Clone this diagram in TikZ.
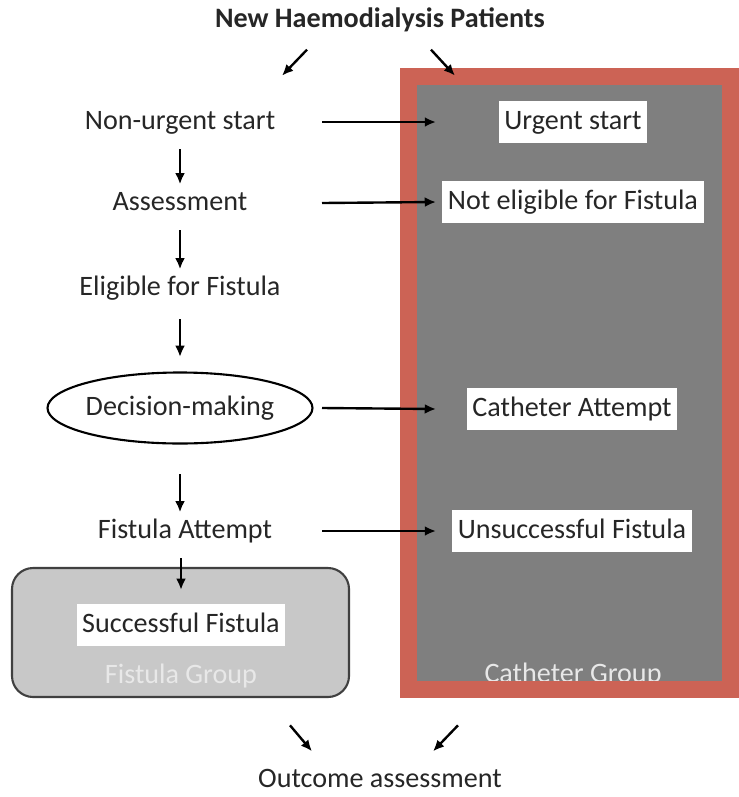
\documentclass[tikz,border=0pt]{standalone}
\usepackage{fontspec}
\setmainfont{Carlito}
\usetikzlibrary{arrows.meta,calc}
\definecolor{catgray}{RGB}{127,127,127}
\definecolor{fisgray}{RGB}{200,200,200}
\definecolor{redframe}{RGB}{204,99,85}
\definecolor{ink}{RGB}{38,38,38}
\definecolor{faint}{RGB}{232,232,232}

\begin{document}
\begin{tikzpicture}[x=0.025cm,y=-0.025cm,>={Latex[length=8pt,width=7pt]},
  font=\fontsize{20}{24}\selectfont,
  txt/.style={text=ink,text height=15pt,text depth=4.5pt},
  lbl/.style={txt,fill=white,inner xsep=4pt,inner ysep=5pt},
  arr/.style={->,line width=1.7pt}]
\useasboundingbox (0,0) rectangle (738,797);

\node[txt,font=\fontsize{20}{24}\selectfont\bfseries] (title) at (380,20) {New Haemodialysis Patients};
\node[txt] (nonurgent) at (180,122) {Non-urgent start};
\node[txt] (assess) at (180,203) {Assessment};
\node[txt] (eligible) at (180,288) {Eligible for Fistula};
\node[txt] (decide) at (180,408) {Decision-making};
\draw[line width=1.5pt] (decide) ellipse [x radius=132.5, y radius=35.5];
\node[txt] (attempt) at (185,531) {Fistula Attempt};

% fistula group
\draw[line width=1.5pt,draw=black!75,fill=fisgray,rounded corners=15pt] (12,568) rectangle (349,697);
\node[lbl] (success) at (181,625) {Successful Fistula};
\node[text=faint] (fgroup) at (181,676) {Fistula Group};

% catheter group
\fill[catgray] (408,76) rectangle (730,690);
\node[lbl] (urgent) at (573,122) {Urgent start};
\node[lbl] (noteligible) at (573,202) {Not eligible for Fistula};
\node[lbl] (cathatt) at (572,409) {Catheter Attempt};
\node[lbl] (unsucc) at (572,531) {Unsuccessful Fistula};
\node[text=faint] (cgroup) at (573,675) {Catheter Group};
\draw[redframe,line width=0.425cm] (408.5,76.5) rectangle (730,689.5);

\node[txt] (outcome) at (380,780) {Outcome assessment};

% arrows
\draw[arr] ($(title.south)+(-73,11)$) -- ++(-25,26);
\draw[arr] ($(title.south)+(51,11)$) -- ++(24,26);
\coordinate (lx) at (322,0);
\coordinate (rx) at (436,0);
\foreach \a/\b in {nonurgent/urgent,assess/noteligible,decide/cathatt,attempt/unsucc}
  \draw[arr] (\a -| lx) -- (\b -| rx);
\draw[arr,shorten <=6pt] (nonurgent) -- (assess);
\draw[arr,shorten <=6pt] (assess) -- (eligible);
\draw[arr,shorten <=9pt,shorten >=23pt] (eligible) -- (decide);
\draw[arr,shorten <=34pt] (decide) -- (attempt.north -| decide);
\draw[arr,shorten <=6pt,shorten >=10pt] (attempt.south -| success) -- (success.north);
\draw[arr] ($(outcome.north)+(-90,-36)$) -- ++(22,26);
\draw[arr] ($(outcome.north)+(78,-36)$) -- ++(-25,26);
\end{tikzpicture}
\end{document}
